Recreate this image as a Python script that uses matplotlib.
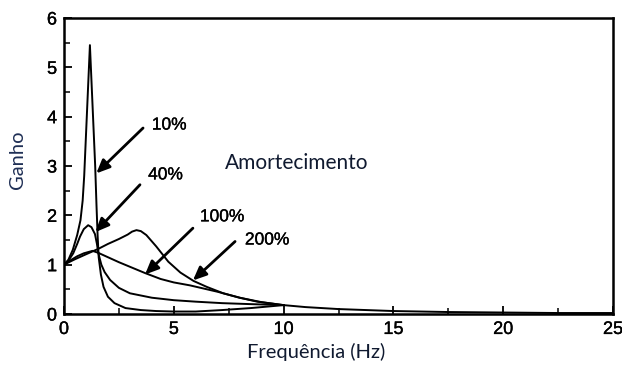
import matplotlib
matplotlib.use("Agg")
import matplotlib.pyplot as plt
import matplotlib.patheffects as pe

# Gain vs. frequency for several damping ratios
x_10 = [0, 0.2, 0.4, 0.6, 0.75, 0.85, 0.92, 1.18, 1.42, 1.48, 1.53, 1.58, 1.68, 1.8, 2.0,
        2.3, 2.8, 3.5, 4.2, 5.0, 6.0, 7.2, 8.5, 10, 11, 12.5, 15, 17.5, 20, 22.5, 25]
y_10 = [1.0, 1.1, 1.3, 1.6, 1.9, 2.3, 2.8, 5.45, 3.0, 2.2, 1.6, 1.15, 0.8, 0.55, 0.35,
        0.22, 0.12, 0.08, 0.06, 0.05, 0.05, 0.08, 0.12, 0.18, 0.14, 0.1, 0.06, 0.04, 0.03, 0.02, 0.02]

x_40 = [0, 0.2, 0.42, 0.6, 0.73, 0.9, 1.1, 1.25, 1.41, 1.5, 1.56, 1.7, 1.85, 2.1, 2.5,
        3.0, 4.0, 5.0, 6.0, 7.2, 8.5, 10]
y_40 = [1.0, 1.08, 1.23, 1.42, 1.57, 1.72, 1.8, 1.76, 1.62, 1.42, 1.24, 1.0, 0.85, 0.69, 0.53,
        0.42, 0.33, 0.28, 0.25, 0.22, 0.2, 0.18]

x_100 = [0, 0.3, 0.6, 0.9, 1.3, 1.56, 2.5, 3.69, 4.4, 5.0, 5.74, 7.0, 8.0, 9.0, 10]
y_100 = [1.0, 1.09, 1.17, 1.23, 1.28, 1.24, 1.05, 0.83, 0.71, 0.64, 0.58, 0.45, 0.33, 0.24, 0.18]

x_200 = [0, 0.5, 1.0, 1.56, 2.0, 2.5, 2.9, 3.1, 3.3, 3.5, 3.75, 4.2, 4.75, 5.3, 5.9,
         6.5, 7.25, 8.0, 8.8, 10]
y_200 = [1.0, 1.11, 1.21, 1.32, 1.42, 1.52, 1.61, 1.67, 1.7, 1.68, 1.6, 1.37, 1.06, 0.84, 0.67,
         0.55, 0.42, 0.33, 0.25, 0.18]

damping_labels = ["10%", "40%", "100%", "200%"]
label_pos = [(4.0, 3.83), (3.83, 2.82), (6.19, 1.97), (8.24, 1.5)]
arrow_start = [(3.6, 3.77), (3.46, 2.62), (5.87, 1.74), (7.79, 1.47)]
arrow_tip = [(1.47, 2.85), (1.43, 1.66), (3.69, 0.8), (5.87, 0.68)]

x_ticks = [0, 5, 10, 15, 20, 25]
y_ticks = [0, 1, 2, 3, 4, 5, 6]

heavy = [pe.withStroke(linewidth=0.25, foreground="black")]

fig = plt.figure(figsize=(6.22, 3.65), dpi=100)
ax = fig.add_axes([64 / 622, 51 / 365, 549 / 622, 296 / 365])

for xs, ys in [(x_10, y_10), (x_40, y_40), (x_100, y_100), (x_200, y_200)]:
    ax.plot(xs, ys, color="black", lw=1.4, solid_joinstyle="round")

for lab, pos, s, t in zip(damping_labels, label_pos, arrow_start, arrow_tip):
    ax.text(pos[0], pos[1], lab, fontsize=12.5, family="Liberation Sans",
            ha="left", va="center", color="black", path_effects=heavy)
    ax.annotate("", xy=t, xytext=s,
                arrowprops=dict(arrowstyle="-|>,head_length=0.5,head_width=0.22",
                                lw=2.0, color="black",
                                mutation_scale=16, shrinkA=0, shrinkB=0))

ax.text(7.33, 3.06, "Amortecimento", fontsize=15, family="Lato",
        ha="left", va="center", color="#101a30")

ax.set_xlim(0, 25)
ax.set_ylim(0, 6)
ax.set_xticks(x_ticks)
ax.set_yticks(y_ticks)
ax.set_xticks([2.5, 7.5, 12.5, 17.5, 22.5], minor=True)
ax.set_yticks([0.5, 1.5, 2.5, 3.5, 4.5, 5.5], minor=True)
ax.tick_params(which="major", direction="in", length=6, width=1.3, labelsize=13, pad=5)
ax.tick_params(which="minor", direction="in", length=4, width=1.1)
for lbl in ax.get_xticklabels() + ax.get_yticklabels():
    lbl.set_family("Liberation Sans")
    lbl.set_path_effects(heavy)
for sp in ax.spines.values():
    sp.set_linewidth(1.8)

fig.text(18 / 622, 1 - 160 / 365, "Ganho", rotation=90, fontsize=14.5, family="Lato",
         ha="center", va="center", color="#1f2f55")
fig.text(316 / 622, 1 - 352 / 365, "Frequência (Hz)", fontsize=14.5, family="Lato",
         ha="center", va="center", color="#101a30")

fig.savefig("out.png", dpi=100)
